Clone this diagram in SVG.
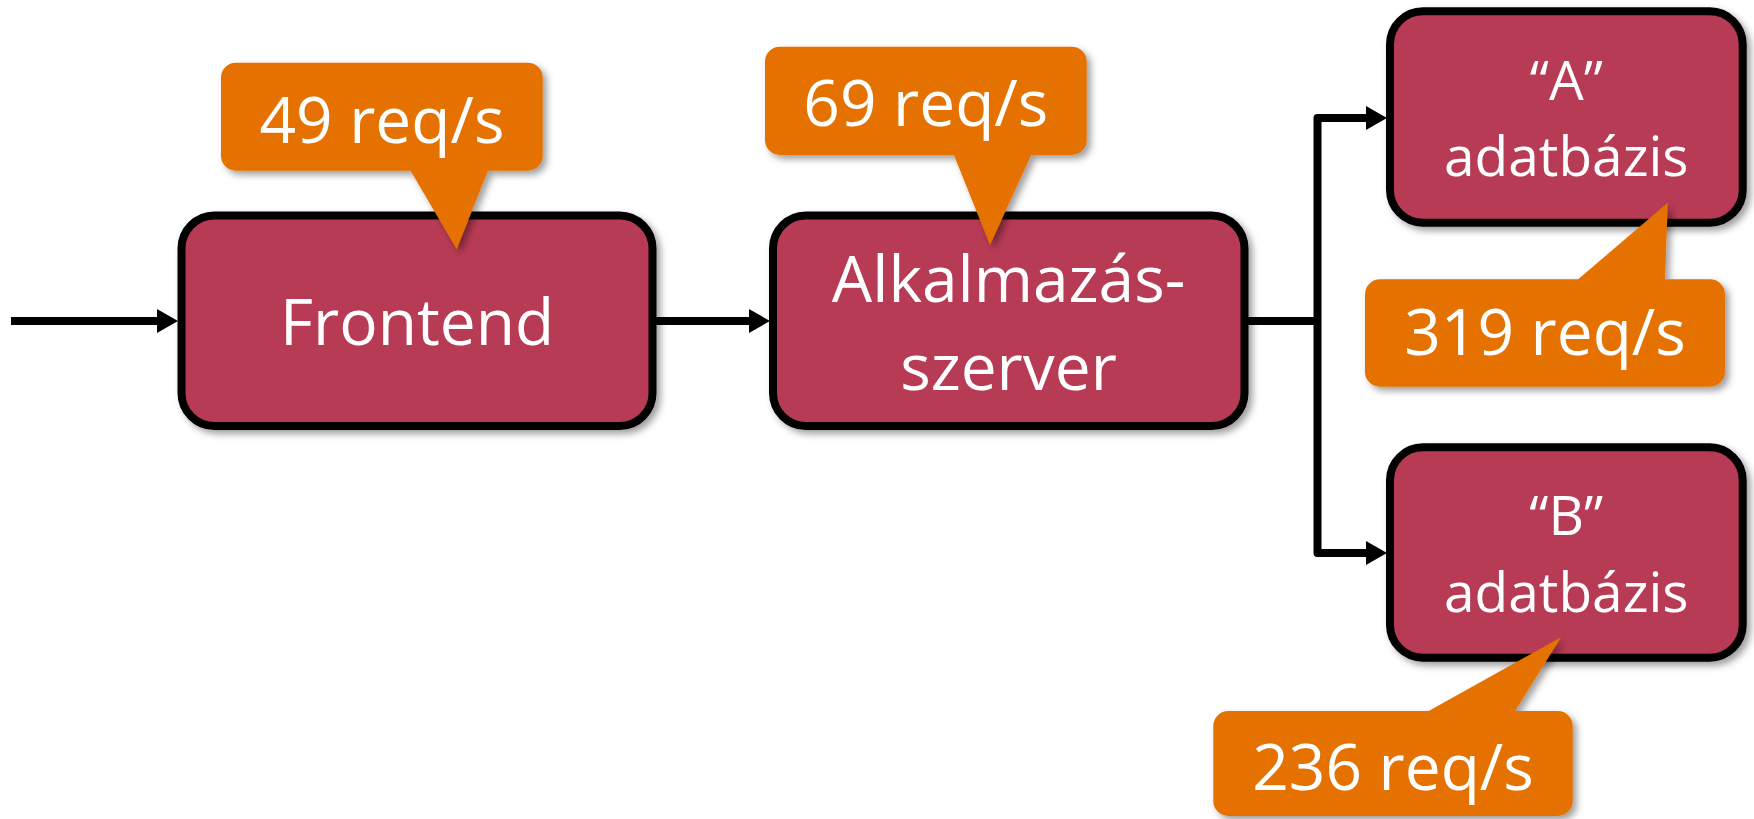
<svg xmlns="http://www.w3.org/2000/svg" width="1754" height="819" viewBox="0 0 1754 819">
  <defs>
    <filter id="shadow" x="-10%" y="-10%" width="125%" height="130%">
      <feDropShadow dx="4" dy="4" stdDeviation="3.5" flood-color="#000" flood-opacity="0.38"/>
    </filter>
    <marker id="arrow" viewBox="0 0 21 24" refX="0" refY="12" markerWidth="21" markerHeight="24" markerUnits="userSpaceOnUse" orient="auto">
      <path d="M0,0 L21,12 L0,24 Z" fill="#000"/>
    </marker>
    <style>
      .box { fill: #B83A55; stroke: #000; stroke-width: 8; }
      .call { fill: #E57200; }
      .wire { fill: none; stroke: #000; stroke-width: 8; stroke-linejoin: round; }
      text { font-family: "Open Sans", "Liberation Sans", sans-serif; fill: #fff; text-anchor: middle; }
      .big { font-size: 64px; }
      .db { font-size: 55px; }
    </style>
  </defs>

  <!-- connectors -->
  <g id="connectors">
    <path class="wire" d="M11,321 H157" marker-end="url(#arrow)"/>
    <path class="wire" d="M655,321 H749" marker-end="url(#arrow)"/>
    <path class="wire" d="M1247,321 H1317.5"/>
    <path class="wire" d="M1317.5,321 V118 H1366" marker-end="url(#arrow)"/>
    <path class="wire" d="M1317.5,321 V553 H1366" marker-end="url(#arrow)"/>
  </g>

  <!-- nodes -->
  <g id="frontend" filter="url(#shadow)">
    <rect class="box" x="181.5" y="215.5" width="471" height="210.5" rx="33"/>
    <text class="big" x="417" y="345">Frontend</text>
  </g>

  <g id="appserver" filter="url(#shadow)">
    <rect class="box" x="773" y="215.5" width="471.5" height="210.5" rx="33"/>
    <text class="big" x="1008.5" y="301.7">Alkalmazás-</text>
    <text class="big" x="1008.5" y="390">szerver</text>
  </g>

  <g id="db-a" filter="url(#shadow)">
    <rect class="box" x="1390" y="11.3" width="352.7" height="211.4" rx="33"/>
    <text class="db" x="1566.3" y="100">“A”</text>
    <text class="db" x="1566.3" y="175.7">adatbázis</text>
  </g>

  <g id="db-b" filter="url(#shadow)">
    <rect class="box" x="1390" y="447.3" width="352.7" height="210.4" rx="33"/>
    <text class="db" x="1566.3" y="535">“B”</text>
    <text class="db" x="1566.3" y="611.7">adatbázis</text>
  </g>

  <!-- rate callouts -->
  <g id="rate-frontend" filter="url(#shadow)">
    <rect class="call" x="221" y="62.7" width="321.7" height="108" rx="15"/>
    <polygon class="call" points="409,168 489,168 456.7,249.3"/>
    <text class="big" x="381.9" y="142.7">49 req/s</text>
  </g>

  <g id="rate-appserver" filter="url(#shadow)">
    <rect class="call" x="765" y="46.7" width="321.7" height="108.3" rx="15"/>
    <polygon class="call" points="952.7,152 1032.7,152 990,245"/>
    <text class="big" x="925.8" y="126">69 req/s</text>
  </g>

  <g id="rate-db-a" filter="url(#shadow)">
    <rect class="call" x="1365" y="279.3" width="360" height="107.4" rx="15"/>
    <polygon class="call" points="1575,282 1665,282 1667.7,202.7"/>
    <text class="big" x="1545" y="355">319 req/s</text>
  </g>

  <g id="rate-db-b" filter="url(#shadow)">
    <rect class="call" x="1213.3" y="711" width="359.4" height="105" rx="15"/>
    <polygon class="call" points="1423.3,714 1513.3,714 1561,637.3"/>
    <text class="big" x="1393" y="790">236 req/s</text>
  </g>
</svg>
